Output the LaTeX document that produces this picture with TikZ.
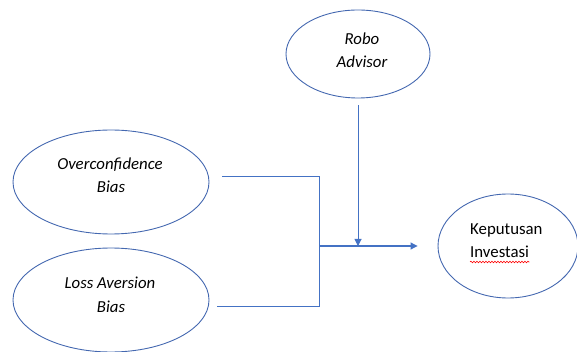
\documentclass[tikz,border=0pt]{standalone}
\usepackage{fontspec}
\setmainfont{Carlito}
\usetikzlibrary{shapes.geometric,arrows.meta,calc,decorations.pathmorphing}
\definecolor{ellblue}{RGB}{68,104,176}
\definecolor{lineblue}{RGB}{68,114,196}
\tikzset{
  bubble/.style={draw=ellblue, line width=0.9pt, ellipse, inner sep=0pt},
  itxt/.style={anchor=base, inner sep=0pt, font=\fontsize{16.8}{20}\selectfont\itshape},
  utxt/.style={anchor=base west, inner sep=0pt, font=\fontsize{16.8}{20}\selectfont},
  conn/.style={draw=lineblue, line width=1pt},
  tip/.style={-{Triangle[length=7pt,width=7pt]}}
}
\begin{document}
\begin{tikzpicture}[x=1pt,y=-1pt]
\useasboundingbox (0,0) rectangle (577,352);
\node[bubble, minimum width=144pt, minimum height=88pt] (ra) at (358,54) {};
\node[bubble, minimum width=196pt, minimum height=104pt] (oc) at (111,182) {};
\node[bubble, minimum width=196pt, minimum height=104pt] (la) at (111,300) {};
\node[bubble, minimum width=140pt, minimum height=104pt] (kp) at (508,246) {};
% texts
\node[itxt] (ra1) at (362,45) {Robo};
\node[itxt] (ra2) at (362,68) {Advisor};
\node[itxt] (oc1) at (110,170) {Overconfidence};
\node[itxt] (oc2) at (111,193) {Bias};
\node[itxt] (la1) at (110,288) {Loss Aversion};
\node[itxt] (la2) at (111,312) {Bias};
\node[utxt] (kp1) at (470,235) {Keputusan};
\node[utxt] (kp2) at (470,258) {Investasi};
% connectors
\coordinate (j) at (319,246);
\draw[conn] ($(oc.east)+(13,-5)$) -| (j);
\draw[conn] ($(la.east)+(8,6)$) -| (j);
\draw[conn, tip] (j) -- ($(kp.west)+(-20,0)$);
\draw[conn, tip] ($(ra.south)+(0,7)$) -- (ra.south |- j);
\draw[red, line width=0.6pt, decorate, decoration={snake, amplitude=0.8pt, segment length=3pt}]
  ($(kp2.base west)+(0,4)$) -- ($(kp2.base east)+(0,4)$);
\end{tikzpicture}
\end{document}
